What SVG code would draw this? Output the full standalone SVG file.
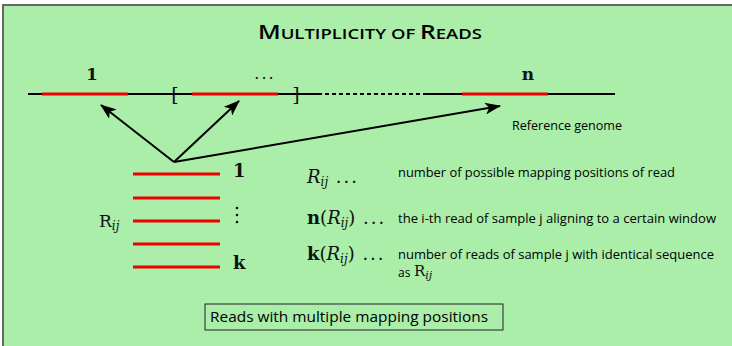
<svg xmlns="http://www.w3.org/2000/svg" width="732" height="346" viewBox="0 0 732 346">
<defs>
<style>
.sans{font-family:"Open Sans","Liberation Sans",sans-serif;fill:#000}
.ser{font-family:"DejaVu Serif","Liberation Serif",serif;fill:#111}
.red{stroke:#ee0000;stroke-width:3}
.blk{stroke:#000;stroke-width:2;fill:none}
</style>
<marker id="ah" viewBox="0 0 16 12" refX="15" refY="6" markerWidth="16" markerHeight="12" markerUnits="userSpaceOnUse" orient="auto">
<path d="M0,0 L16,6 L0,12 L4,6 Z" fill="#000"/>
</marker>
</defs>
<rect x="3" y="5" width="740" height="350" fill="#aaeeaa" stroke="#666" stroke-width="2"/>
<text x="370" y="39" class="sans" text-anchor="middle" font-size="20" font-weight="600" textLength="224" lengthAdjust="spacingAndGlyphs">M<tspan font-size="15">ULTIPLICITY OF </tspan>R<tspan font-size="15">EADS</tspan></text>
<g id="genome">
<line x1="28" y1="94" x2="318" y2="94" class="blk"/>
<line x1="318" y1="94" x2="425" y2="94" class="blk" stroke-dasharray="4,3"/>
<line x1="425" y1="94" x2="615" y2="94" class="blk"/>
<line x1="42" y1="94" x2="128" y2="94" class="red"/>
<line x1="192" y1="94" x2="278" y2="94" class="red"/>
<line x1="462" y1="94" x2="548" y2="94" class="red"/>
<text x="175" y="101" class="ser" font-size="19" text-anchor="middle">[</text>
<text x="296" y="101" class="ser" font-size="19" text-anchor="middle">]</text>
<text x="92" y="80" class="ser" font-size="17" font-weight="bold" text-anchor="middle">1</text>
<text x="265" y="79" class="ser" font-size="16" text-anchor="middle" letter-spacing="2">...</text>
<text x="528" y="80" class="ser" font-size="17" font-weight="bold" text-anchor="middle">n</text>
<text x="512" y="130" class="sans" font-size="12" textLength="110" lengthAdjust="spacingAndGlyphs">Reference genome</text>
</g>
<g id="connectors">
<line x1="174" y1="162" x2="101" y2="105" class="blk" marker-end="url(#ah)"/>
<line x1="174" y1="162" x2="239" y2="101" class="blk" marker-end="url(#ah)"/>
<line x1="174" y1="162" x2="500" y2="106" class="blk" marker-end="url(#ah)"/>
</g>
<g id="reads">
<line x1="133" y1="174" x2="220" y2="174" class="red"/>
<line x1="133" y1="198" x2="220" y2="198" class="red"/>
<line x1="133" y1="221" x2="220" y2="221" class="red"/>
<line x1="133" y1="244" x2="220" y2="244" class="red"/>
<line x1="133" y1="267" x2="220" y2="267" class="red"/>
<text x="233" y="177" class="ser" font-size="18" font-weight="bold">1</text>
<text x="233" y="269" class="ser" font-size="18" font-weight="bold">k</text>
<g fill="#111"><circle cx="237" cy="208" r="1.3"/><circle cx="237" cy="215" r="1.3"/><circle cx="237" cy="222" r="1.3"/></g>
<text x="99" y="227" class="ser" font-size="17">R<tspan font-size="12" font-style="italic" dy="3">ij</tspan></text>
</g>
<g id="legend">
<text x="307" y="183" class="ser" font-size="18"><tspan font-style="italic">R</tspan><tspan font-size="12" font-style="italic" dy="3">ij</tspan><tspan dy="-3" letter-spacing="2"> ...</tspan></text>
<text x="398" y="177" class="sans" font-size="12" textLength="277" lengthAdjust="spacingAndGlyphs">number of possible mapping positions of read</text>
<text x="307" y="224" class="ser" font-size="18"><tspan font-weight="bold">n</tspan>(<tspan font-style="italic">R</tspan><tspan font-size="12" font-style="italic" dy="3">ij</tspan><tspan dy="-3">)</tspan><tspan letter-spacing="2"> ...</tspan></text>
<text x="398" y="223" class="sans" font-size="12" textLength="318" lengthAdjust="spacingAndGlyphs">the i-th read of sample j aligning to a certain window</text>
<text x="307" y="260" class="ser" font-size="18"><tspan font-weight="bold">k</tspan>(<tspan font-style="italic">R</tspan><tspan font-size="12" font-style="italic" dy="3">ij</tspan><tspan dy="-3">)</tspan><tspan letter-spacing="2"> ...</tspan></text>
<text x="398" y="259" class="sans" font-size="12" textLength="316" lengthAdjust="spacingAndGlyphs">number of reads of sample j with identical sequence</text>
<text x="398" y="277" class="sans" font-size="12">as</text>
<text x="414" y="276" class="ser" font-size="15">R<tspan font-size="11" font-style="italic" dy="3">ij</tspan></text>
</g>
<g id="caption">
<rect x="205" y="304" width="298" height="26" fill="none" stroke="#222" stroke-width="1"/>
<text x="210" y="322" class="sans" font-size="14" textLength="278" lengthAdjust="spacingAndGlyphs">Reads with multiple mapping positions</text>
</g>
</svg>
